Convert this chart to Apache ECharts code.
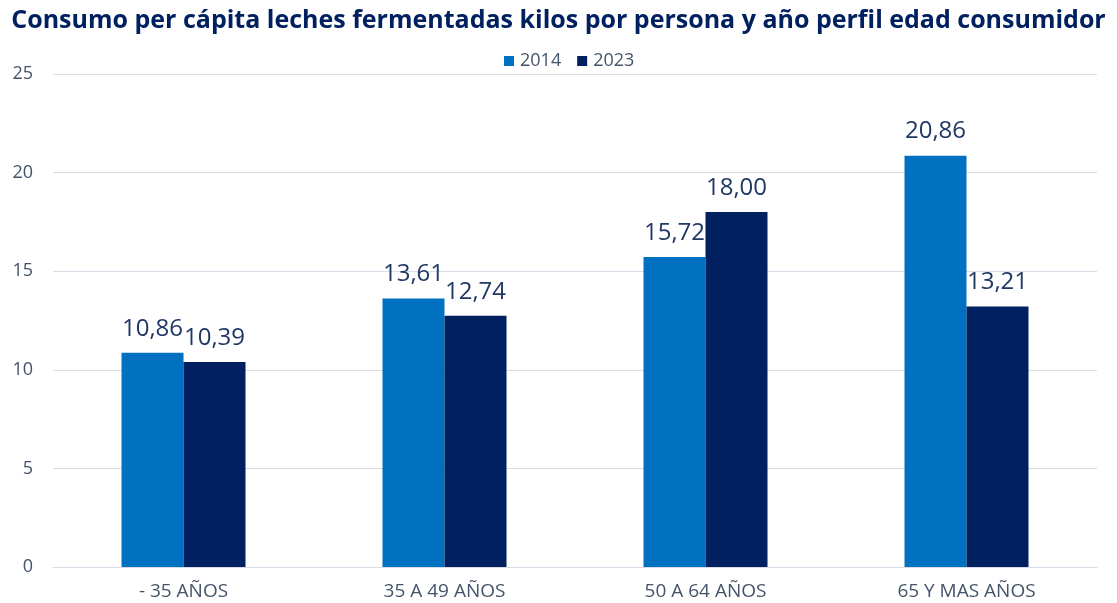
<!DOCTYPE html>
<html><head><meta charset="utf-8">
<script src="https://cdn.jsdelivr.net/npm/echarts@6/dist/echarts.min.js"></script>
<style>html,body{margin:0;padding:0;background:#fff}#c{width:1117px;height:603px}</style>
</head><body><div id="c"></div>
<script>
const categories = ['- 35 AÑOS', '35 A 49 AÑOS', '50 A 64 AÑOS', '65 Y MAS AÑOS'];
const values2014 = [10.86, 13.61, 15.72, 20.86];
const values2023 = [10.39, 12.74, 18.00, 13.21];
const seriesNames = ['2014', '2023'];
const chart = echarts.init(document.getElementById('c'));
const fmt = p => p.value.toFixed(2).replace('.', ',');
chart.setOption({
  animation: false,
  title: {
    text: 'Consumo per cápita leches fermentadas kilos por persona y año perfil edad consumidor',
    left: 'center', top: 3,
    textStyle: {fontFamily: 'Open Sans', fontWeight: 'bold', fontSize: 25, color: '#002060'}
  },
  legend: {
    top: 47, left: 499, itemWidth: 10, itemHeight: 10, itemGap: 16,
    icon: 'rect',
    textStyle: {fontFamily: 'Open Sans', fontSize: 18, color: '#44546a', padding: [0, 0, 0, 1]},
    data: seriesNames
  },
  grid: {left: 53, right: 20, top: 74, bottom: 36, containLabel: false},
  xAxis: {
    type: 'category', data: categories,
    axisLine: {lineStyle: {color: '#d9dce6'}}, axisTick: {show: false},
    axisLabel: {fontFamily: 'Open Sans', fontSize: 19, color: '#44546a', margin: 15}
  },
  yAxis: {
    type: 'value', min: 0, max: 25, interval: 5,
    axisLine: {show: false}, axisTick: {show: false},
    splitLine: {lineStyle: {color: '#d9dce6'}},
    axisLabel: {fontFamily: 'Open Sans', fontSize: 18, color: '#44546a', margin: 20, align: 'right'}
  },
  series: [
    {name: seriesNames[0], type: 'bar', data: values2014, barWidth: 62, barGap: '0%',
     itemStyle: {color: '#0070C0'},
     label: {show: true, position: 'top', distance: 12, formatter: fmt, fontFamily: 'Open Sans', fontSize: 24, color: '#1f3864'}},
    {name: seriesNames[1], type: 'bar', data: values2023, barWidth: 62, barGap: '0%',
     itemStyle: {color: '#002060'},
     label: {show: true, position: 'top', distance: 12, formatter: fmt, fontFamily: 'Open Sans', fontSize: 24, color: '#1f3864'}}
  ]
});
</script></body></html>
